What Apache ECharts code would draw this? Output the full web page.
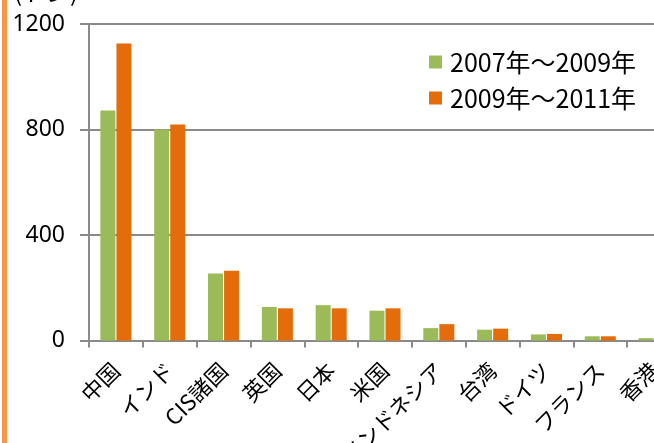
<!DOCTYPE html>
<html>
<head>
<meta charset="utf-8">
<script src="https://cdn.jsdelivr.net/npm/echarts@6/dist/echarts.min.js"></script>
<style>
html,body{margin:0;padding:0;overflow:hidden;background:#fff;width:654px;height:443px;}
#c{width:700px;height:443px;}
</style>
</head>
<body>
<div id="c"></div>
<script>
const categories = ['中国','インド','CIS諸国','英国','日本','米国','インドネシア','台湾','ドイツ','フランス','香港'];
const series2007 = [872, 800, 254, 127, 134, 113, 47, 41, 23, 16, 9];
const series2009 = [1126, 819, 264, 122, 122, 122, 62, 45, 25, 16, 8];
const seriesNames = ['2007年～2009年', '2009年～2011年'];
const unitLabel = '(トン)';

const chart = echarts.init(document.getElementById('c'), null, {renderer: 'canvas'});
const axisGray = '#8a8a8a';
const font = 'Noto Sans CJK JP';
chart.setOption({
  animation: false,
  grid: {left: 89, top: 24, right: 19, bottom: 102.5, containLabel: false, outerBoundsMode: 'none'},
  legend: {
    orient: 'vertical',
    left: 429, top: 49,
    padding: 0,
    icon: 'rect',
    itemWidth: 13, itemHeight: 13,
    itemGap: 10,
    textStyle: {fontFamily: font, fontSize: 25, lineHeight: 26, color: '#000', padding: [0,0,0,3]},
    data: seriesNames
  },
  graphic: [
    {type: 'rect', left: 2, top: 0, shape: {width: 5, height: 443}, style: {fill: '#F79646'}},
    {type: 'text', left: 14, top: -20, style: {text: unitLabel, font: '24px "Noto Sans CJK JP"', fill: '#000'}}
  ],
  xAxis: {
    type: 'category',
    data: categories,
    axisLine: {lineStyle: {color: axisGray, width: 2}},
    axisTick: {show: true, length: 7, alignWithLabel: false, lineStyle: {color: axisGray, width: 2}},
    axisLabel: {rotate: 45, margin: 26, interval: 0, color: '#000', fontFamily: font, fontSize: 22}
  },
  yAxis: {
    type: 'value',
    min: 0, max: 1200, interval: 400,
    axisLine: {show: true, lineStyle: {color: axisGray, width: 2}},
    axisTick: {show: true, length: 9, lineStyle: {color: axisGray, width: 2}},
    splitLine: {show: true, lineStyle: {color: axisGray, width: 2}},
    axisLabel: {margin: 24, color: '#000', fontFamily: 'Noto Sans', fontSize: 23, formatter: v => String(v)}
  },
  series: [
    {name: seriesNames[0], type: 'bar', data: series2007, barWidth: 15, barGap: '7%', itemStyle: {color: '#9BBB59'}},
    {name: seriesNames[1], type: 'bar', data: series2009, barWidth: 15, itemStyle: {color: '#E46C0A'}}
  ]
});
</script>
</body>
</html>
